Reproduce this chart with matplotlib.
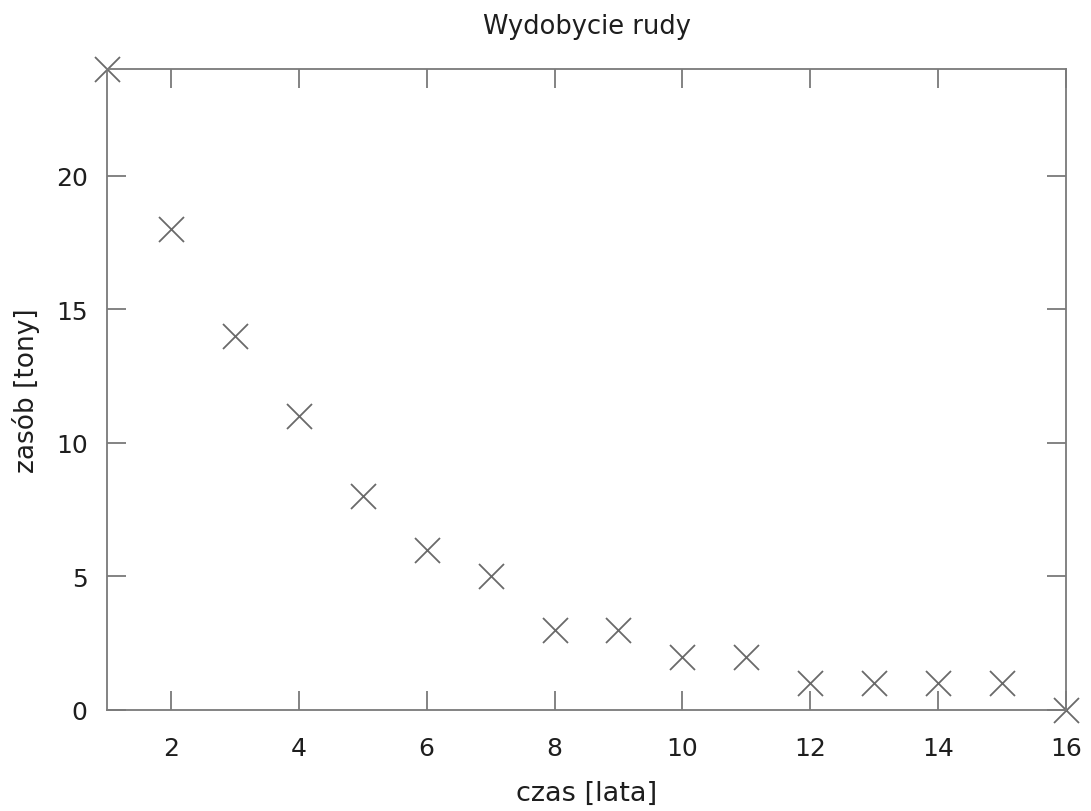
import matplotlib.pyplot as plt

# zasób rudy w kolejnych latach
lata = [1, 2, 3, 4, 5, 6, 7, 8, 9, 10, 11, 12, 13, 14, 15, 16]
zasob = [24, 18, 14, 11, 8, 6, 5, 3, 3, 2, 2, 1, 1, 1, 1, 0]

x_ticks = [2, 4, 6, 8, 10, 12, 14, 16]
y_ticks = [0, 5, 10, 15, 20]

plt.rcParams["font.family"] = ["DejaVu Sans"]
text_color = "#1e1e1e"
line_color = "#7a7a7a"

fig = plt.figure(figsize=(10.91, 8.12), dpi=100)
ax = fig.add_axes([0.0981, 0.1244, 0.8790, 0.7894])

ax.plot(lata, zasob, linestyle="none", marker="x", markersize=18,
        markeredgewidth=1.3, color="#6a6a6a", clip_on=False)

ax.set_xlim(1, 16)
ax.set_ylim(0, 24)
ax.set_xticks(x_ticks)
ax.set_yticks(y_ticks)
ax.tick_params(direction="in", length=14, width=1.3, color=line_color,
               labelsize=18, labelcolor=text_color, top=True, right=True)
ax.tick_params(axis="x", pad=19)
ax.tick_params(axis="y", pad=14)
for s in ax.spines.values():
    s.set_color(line_color)
    s.set_linewidth(1.3)

ax.set_title("Wydobycie rudy", fontsize=18.5, color=text_color, pad=26)
ax.set_xlabel("czas [lata]", fontsize=19.5, color=text_color, labelpad=14)
ax.set_ylabel("zasób [tony]", fontsize=19, color=text_color, labelpad=11)

fig.savefig("out.png", dpi=100)
